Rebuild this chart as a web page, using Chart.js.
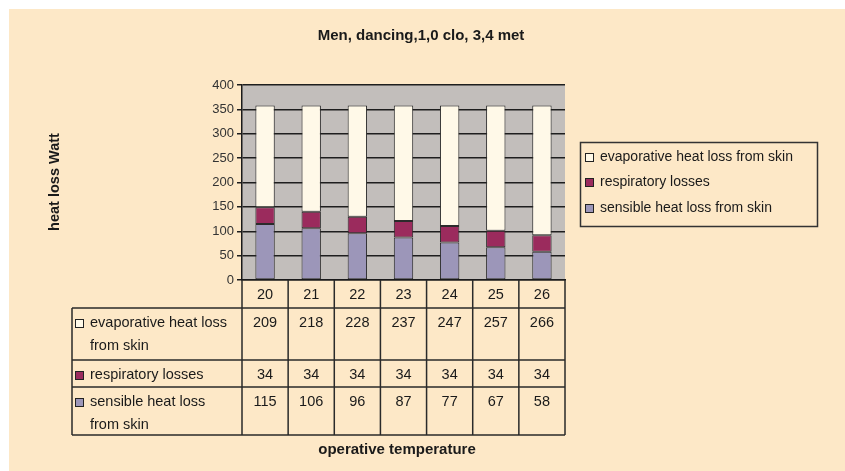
<!DOCTYPE html>
<html>
<head>
<meta charset="utf-8">
<title>Men, dancing</title>
<script src="https://cdn.jsdelivr.net/npm/chart.js"></script>
<style>
  html, body { margin: 0; padding: 0; background: #ffffff; }
  #chart { display: block; }
</style>
</head>
<body>
<canvas id="chart" width="845" height="471"></canvas>
<script>
// data
const temperatures = ['20', '21', '22', '23', '24', '25', '26'];
const evaporative = [209, 218, 228, 237, 247, 257, 266];
const respiratory = [34, 34, 34, 34, 34, 34, 34];
const sensible = [115, 106, 96, 87, 77, 67, 58];
const yTicks = [0, 50, 100, 150, 200, 250, 300, 350, 400];

const titleText = 'Men, dancing,1,0 clo, 3,4 met';
const yTitle = 'heat loss Watt';
const xTitle = 'operative temperature';

// rows of legend / table (top to bottom)
const rows = [
  { label: ['evaporative heat loss', 'from skin'], legend: 'evaporative heat loss from skin', data: evaporative, color: '#fff9e8' },
  { label: ['respiratory losses'], legend: 'respiratory losses', data: respiratory, color: '#9b2b5d' },
  { label: ['sensible heat loss', 'from skin'], legend: 'sensible heat loss from skin', data: sensible, color: '#9c96b9' }
];

const FONT = '"Liberation Sans", Arial, sans-serif';

// background + gray plot area
const backPlugin = {
  id: 'back',
  beforeDraw(chart) {
    const c = chart.ctx, a = chart.chartArea;
    c.save();
    c.fillStyle = '#ffffff';
    c.fillRect(0, 0, chart.width, chart.height);
    c.fillStyle = '#fde8c7';
    c.fillRect(9, 9, chart.width - 9, chart.height - 9);
    c.fillStyle = '#c2bebb';
    c.fillRect(a.left, a.top, a.right - a.left, a.bottom - a.top);
    c.restore();
  }
};

// titles, legend and data table
const extrasPlugin = {
  id: 'extras',
  afterDraw(chart) {
    const c = chart.ctx, a = chart.chartArea, x = chart.scales.x;
    c.save();
    c.fillStyle = '#1a1a1a';
    c.textBaseline = 'middle';

    // title
    c.font = 'bold 15px ' + FONT;
    c.textAlign = 'center';
    c.fillText(titleText, 421, 36);

    // y title
    c.save();
    c.translate(55, 182);
    c.rotate(-Math.PI / 2);
    c.font = 'bold 14.5px ' + FONT;
    c.fillText(yTitle, 0, 0);
    c.restore();

    // x title
    c.font = 'bold 15px ' + FONT;
    c.fillText(xTitle, 397, 450);

    // legend
    c.strokeStyle = '#333';
    c.lineWidth = 1.5;
    c.strokeRect(580.5, 142.5, 237, 84);
    c.font = '14px ' + FONT;
    c.textAlign = 'left';
    const ly = [157, 182, 208];
    rows.forEach((r, i) => {
      c.fillStyle = r.color;
      c.fillRect(585, ly[i] - 4, 9, 9);
      c.strokeStyle = '#222';
      c.lineWidth = 1;
      c.strokeRect(585.5, ly[i] - 3.5, 8, 8);
      c.fillStyle = '#1a1a1a';
      c.fillText(r.legend, 600, ly[i]);
    });

    // data table
    const n = temperatures.length;
    const cw = (x.right - x.left) / n;
    const tLeft = 72, hTop = a.bottom, hBot = 308;
    const lines = [308, 360, 387, 435];
    c.strokeStyle = '#2a2a2a';
    c.lineWidth = 1.5;
    c.beginPath();
    lines.forEach(yy => { c.moveTo(tLeft, yy); c.lineTo(x.right, yy); });
    c.moveTo(tLeft, lines[0]); c.lineTo(tLeft, lines[3]);
    for (let i = 0; i <= n; i++) {
      const xx = x.left + i * cw;
      c.moveTo(xx, hTop); c.lineTo(xx, lines[3]);
    }
    c.stroke();

    c.fillStyle = '#1a1a1a';
    c.textAlign = 'center';
    c.font = '14.5px ' + FONT;
    temperatures.forEach((t, i) => {
      c.fillText(t, x.getPixelForValue(i), (hTop + hBot) / 2 + 1);
    });
    rows.forEach((r, ri) => {
      const top = lines[ri];
      const y1 = top + 15;
      r.data.forEach((v, i) => {
        c.textAlign = 'center';
        c.fillText(String(v), x.getPixelForValue(i), y1);
      });
      // label + swatch
      c.fillStyle = r.color;
      c.fillRect(75, y1 - 4, 9, 9);
      c.strokeStyle = '#222';
      c.lineWidth = 1;
      c.strokeRect(75.5, y1 - 3.5, 8, 8);
      c.fillStyle = '#1a1a1a';
      c.textAlign = 'left';
      r.label.forEach((t, li) => c.fillText(t, 90, y1 + li * 23));
    });
    c.restore();
  }
};

new Chart(document.getElementById('chart'), {
  type: 'bar',
  data: {
    labels: temperatures,
    datasets: [
      { label: rows[2].legend, data: sensible, backgroundColor: rows[2].color },
      { label: rows[1].legend, data: respiratory, backgroundColor: rows[1].color },
      { label: rows[0].legend, data: evaporative, backgroundColor: rows[0].color }
    ].map(d => Object.assign(d, {
      borderColor: '#2b2b2b', borderWidth: 1, borderSkipped: false,
      categoryPercentage: 1, barPercentage: 0.42
    }))
  },
  options: {
    responsive: false,
    animation: false,
    events: [],
    layout: { padding: { left: 0, top: 85, right: 280, bottom: 191 } },
    plugins: { legend: { display: false }, title: { display: false }, tooltip: { enabled: false } },
    scales: {
      x: {
        stacked: true,
        ticks: { display: false },
        grid: { display: false },
        border: { display: true, color: '#1a1a1a', width: 1.5 },
        afterFit(s) { s.height = 0; }
      },
      y: {
        stacked: true,
        min: 0, max: 400,
        afterBuildTicks(s) { s.ticks = yTicks.map(v => ({ value: v })); },
        ticks: { color: '#333', font: { family: FONT, size: 13 }, padding: 3 },
        grid: { color: '#1e1e1e', lineWidth: 1.5, tickLength: 5, drawTicks: true },
        border: { display: true, color: '#1a1a1a', width: 1.5 },
        afterFit(s) { s.width = 242; }
      }
    }
  },
  plugins: [backPlugin, extrasPlugin]
});
</script>
</body>
</html>
